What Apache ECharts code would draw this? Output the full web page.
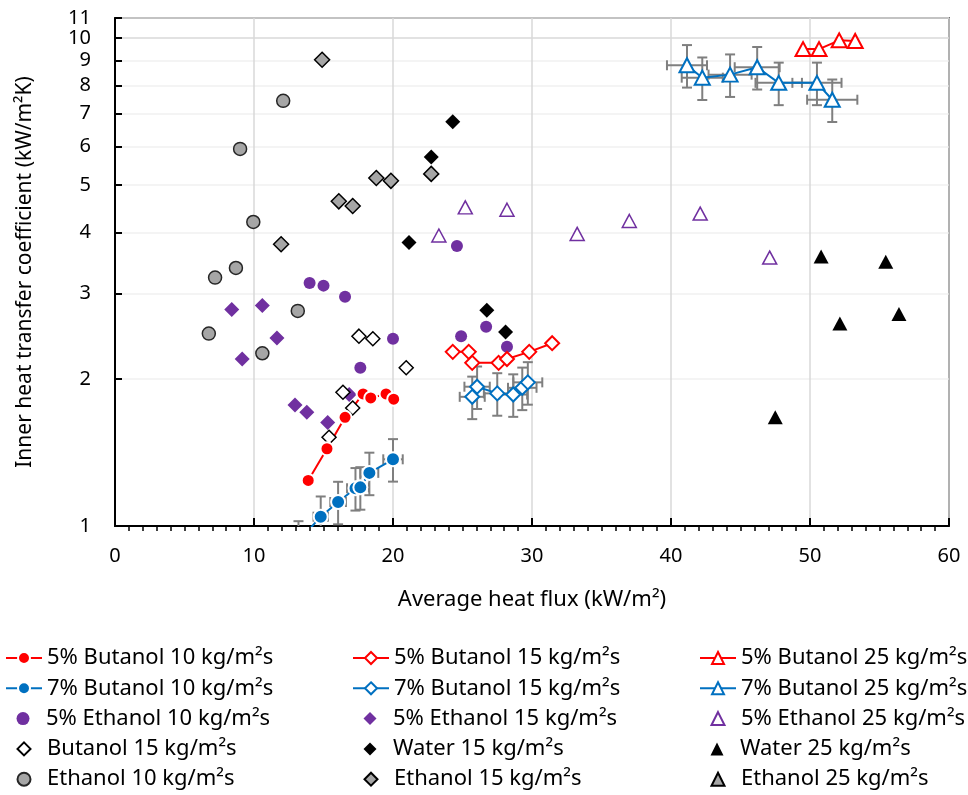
<!DOCTYPE html>
<html>
<head>
<meta charset="utf-8">
<script src="https://cdn.jsdelivr.net/npm/echarts@6/dist/echarts.min.js"></script>
<style>
  html, body { margin: 0; padding: 0; background: #fff; }
  #chart { width: 968px; height: 795px; }
</style>
</head>
<body>
<div id="chart"></div>
<script>
// heat flux (kW/m2) and heat transfer coefficient (kW/m2K) per series
const but5_10_x = [13.9, 15.25, 16.55, 17.85, 18.4, 19.5, 20.05];
const but5_10_y = [1.24, 1.44, 1.67, 1.865, 1.83, 1.865, 1.82];
const but7_10_x = [13.2, 14.8, 16.05, 17.3, 17.65, 18.3, 20.0];
const but7_10_y = [0.93, 1.045, 1.12, 1.195, 1.2, 1.285, 1.37];
const but5_15_x = [24.3, 25.45, 25.7, 27.6, 28.2, 29.8, 31.45];
const but5_15_y = [2.275, 2.275, 2.16, 2.16, 2.2, 2.275, 2.37];
const but7_15_x = [25.7, 26.05, 27.5, 28.65, 29.3, 29.7];
const but7_15_y = [1.84, 1.93, 1.87, 1.86, 1.92, 1.97];
const but5_25_x = [49.5, 50.65, 52.1, 53.25];
const but5_25_y = [9.5, 9.5, 9.9, 9.87];
const but7_25_x = [41.15, 42.25, 44.25, 46.2, 47.75, 50.5, 51.6];
const but7_25_y = [8.8, 8.3, 8.42, 8.72, 8.1, 8.1, 7.48];
const eth5_10_x = [14.0, 15.0, 16.55, 20.0, 17.65, 24.6, 24.9, 26.7, 28.2];
const eth5_10_y = [3.15, 3.11, 2.95, 2.42, 2.11, 3.75, 2.45, 2.56, 2.33];
const eth5_15_x = [8.4, 10.6, 11.65, 9.15, 12.95, 13.8, 15.3, 16.85];
const eth5_15_y = [2.78, 2.83, 2.43, 2.2, 1.77, 1.71, 1.63, 1.86];
const eth5_25_x = [23.3, 25.2, 28.2, 33.25, 37.0, 42.1, 47.1];
const eth5_25_y = [3.94, 4.5, 4.45, 3.97, 4.22, 4.37, 3.55];
const but15_x = [15.4, 16.4, 17.1, 17.55, 18.55, 20.95];
const but15_y = [1.52, 1.88, 1.745, 2.45, 2.42, 2.11];
const water15_x = [21.15, 22.75, 24.3, 26.75, 28.1];
const water15_y = [3.81, 5.71, 6.74, 2.77, 2.5];
const water25_x = [47.5, 50.8, 52.15, 55.45, 56.4];
const water25_y = [1.67, 3.57, 2.6, 3.48, 2.72];
const eth10_x = [6.75, 7.2, 8.7, 9.95, 9.0, 12.1, 10.6, 13.15];
const eth10_y = [2.48, 3.23, 3.38, 4.2, 5.93, 7.44, 2.26, 2.76];
const eth15_x = [11.95, 14.9, 16.1, 17.1, 18.8, 19.85, 22.75];
const eth15_y = [3.78, 9.03, 4.63, 4.53, 5.17, 5.1, 5.27];
const eth25_x = [];
const eth25_y = [];

const yTicks = [1, 2, 3, 4, 5, 6, 7, 8, 9, 10, 11];
// percentage error bars (as in the spreadsheet)
const X_ERR = 0.035;
const Y_ERR = 0.10;

// legend order, row by row (3 columns)
const legendNames = [
  '5% Butanol 10 kg/m²s', '5% Butanol 15 kg/m²s', '5% Butanol 25 kg/m²s',
  '7% Butanol 10 kg/m²s', '7% Butanol 15 kg/m²s', '7% Butanol 25 kg/m²s',
  '5% Ethanol 10 kg/m²s', '5% Ethanol 15 kg/m²s', '5% Ethanol 25 kg/m²s',
  'Butanol 15 kg/m²s', 'Water 15 kg/m²s', 'Water 25 kg/m²s',
  'Ethanol 10 kg/m²s', 'Ethanol 15 kg/m²s', 'Ethanol 25 kg/m²s'
];

const FONT = 'Noto Sans';
const RED = '#ff0000', BLUE = '#0070c0', PURPLE = '#7030a0', GRAY = '#a6a6a6';

function pts(xs, ys) { return xs.map((x, i) => [x, ys[i]]); }
function errPts(xs, ys) { return xs.map((x, i) => [x, ys[i], x * X_ERR, ys[i] * Y_ERR]); }

function renderErr(params, api) {
  const x = api.value(0), y = api.value(1), dx = api.value(2), dy = api.value(3);
  const c = api.coord([x, y]);
  const t = api.coord([x, y + dy]), b = api.coord([x, y - dy]);
  const l = api.coord([x - dx, y]), r = api.coord([x + dx, y]);
  const cap = 5;
  const style = { stroke: '#7f7f7f', lineWidth: 2 };
  const ln = (x1, y1, x2, y2) => ({ type: 'line', shape: { x1, y1, x2, y2 }, style });
  return {
    type: 'group',
    children: [
      ln(c[0], t[1], c[0], b[1]),
      ln(c[0] - cap, t[1], c[0] + cap, t[1]),
      ln(c[0] - cap, b[1], c[0] + cap, b[1]),
      ln(l[0], c[1], r[0], c[1]),
      ln(l[0], c[1] - cap, l[0], c[1] + cap),
      ln(r[0], c[1] - cap, r[0], c[1] + cap)
    ]
  };
}

function errSeries(xs, ys) {
  return { type: 'custom', name: '_err', data: errPts(xs, ys), renderItem: renderErr,
    encode: { x: 0, y: 1 }, clip: true, z: 1, silent: true };
}
function lineSeries(name, xs, ys, color, symbol, size, fill, border) {
  return { type: 'line', name, data: pts(xs, ys), symbol, symbolSize: size, showAllSymbol: true,
    symbolKeepAspect: true,
    lineStyle: { color, width: 2 }, itemStyle: { color: fill, borderColor: border, borderWidth: 2 },
    z: 3, clip: true };
}
function scatterSeries(name, xs, ys, symbol, size, fill, border, bw) {
  return { type: 'scatter', name, data: pts(xs, ys), symbol, symbolSize: size, symbolKeepAspect: true,
    itemStyle: { color: fill, borderColor: border, borderWidth: bw, opacity: 1 }, z: 3, clip: true };
}

const series = [
  errSeries(but7_10_x, but7_10_y),
  errSeries(but7_15_x, but7_15_y),
  errSeries(but7_25_x, but7_25_y),
  scatterSeries('Ethanol 10 kg/m²s', eth10_x, eth10_y, 'circle', 13, GRAY, '#262626', 1.5),
  scatterSeries('Ethanol 15 kg/m²s', eth15_x, eth15_y, 'diamond', 15, GRAY, '#000', 1.5),
  scatterSeries('Ethanol 25 kg/m²s', eth25_x, eth25_y, 'triangle', [14, 13], GRAY, '#000', 1.5),
  scatterSeries('Water 15 kg/m²s', water15_x, water15_y, 'diamond', 15, '#000', '#000', 0),
  scatterSeries('Water 25 kg/m²s', water25_x, water25_y, 'triangle', [15, 14], '#000', '#000', 0),
  scatterSeries('5% Ethanol 10 kg/m²s', eth5_10_x, eth5_10_y, 'circle', 12, PURPLE, PURPLE, 0),
  scatterSeries('5% Ethanol 15 kg/m²s', eth5_15_x, eth5_15_y, 'diamond', 15, PURPLE, PURPLE, 0),
  scatterSeries('5% Ethanol 25 kg/m²s', eth5_25_x, eth5_25_y, 'triangle', [14, 13], '#fff', PURPLE, 1.5),
  scatterSeries('Butanol 15 kg/m²s', but15_x, but15_y, 'diamond', 14, '#fff', '#000', 1.5),
  lineSeries('5% Butanol 10 kg/m²s', but5_10_x, but5_10_y, RED, 'circle', 13, RED, '#fff'),
  lineSeries('7% Butanol 10 kg/m²s', but7_10_x, but7_10_y, BLUE, 'circle', 14, BLUE, '#fff'),
  lineSeries('5% Butanol 15 kg/m²s', but5_15_x, but5_15_y, RED, 'diamond', 14, '#fff', RED),
  lineSeries('7% Butanol 15 kg/m²s', but7_15_x, but7_15_y, BLUE, 'diamond', 14, '#fff', BLUE),
  lineSeries('5% Butanol 25 kg/m²s', but5_25_x, but5_25_y, RED, 'triangle', [15, 14], '#fff', RED),
  lineSeries('7% Butanol 25 kg/m²s', but7_25_x, but7_25_y, BLUE, 'triangle', [15, 14], '#fff', BLUE)
];

// one legend box per entry so the three columns line up;
// scatter entries get a small square icon centred where the line icons sit
const lineNames = series.filter(s => s.type === 'line').map(s => s.name);
const colLeft = [5, 352, 699];
const legends = legendNames.map((name, i) => {
  const isLine = lineNames.includes(name);
  const left = colLeft[i % 3];
  const sym = 13;
  return {
    data: [name],
    left: isLine ? left : left + 18 - sym / 2,
    top: 647 + Math.floor(i / 3) * 30.3,
    orient: 'horizontal', padding: 0,
    itemWidth: isLine ? 36 : sym, itemHeight: isLine ? 15 : sym,
    selectedMode: false,
    textStyle: { fontFamily: FONT, fontSize: 22, color: '#000', lineHeight: 20,
      padding: isLine ? 0 : [0, 0, 0, 36 - (18 + sym / 2)] }
  };
});

const chart = echarts.init(document.getElementById('chart'));
chart.setOption({
  animation: false,
  backgroundColor: '#fff',
  textStyle: { fontFamily: FONT },
  grid: { left: 115, right: 19, top: 18, bottom: 269, show: true, borderColor: '#000', borderWidth: 1.5,
    outerBoundsMode: 'none' },
  graphic: [{
    type: 'text', x: 25, y: 272, rotation: Math.PI / 2,
    style: { text: 'Inner heat transfer coefficient (kW/m²K)', fontFamily: FONT, fontSize: 21,
      fill: '#000', align: 'center', verticalAlign: 'middle' }
  }],
  xAxis: [{
    type: 'value', min: 0, max: 60, interval: 10,
    name: 'Average heat flux (kW/m²)', nameLocation: 'middle', nameGap: 63,
    nameTextStyle: { fontFamily: FONT, fontSize: 22, color: '#000' },
    axisLine: { lineStyle: { color: '#000', width: 2 } },
    axisTick: { show: true, inside: true, length: 8, lineStyle: { color: '#000', width: 2 } },
    axisLabel: { fontFamily: FONT, fontSize: 20, color: '#000', margin: 20 },
    splitLine: { show: true, lineStyle: { color: '#d9d9d9', width: 1.5 } }
  }, {
    type: 'value', min: 0, max: 60, interval: 10, position: 'bottom',
    axisLine: { show: false }, axisLabel: { show: false }, splitLine: { show: false },
    axisTick: { show: false },
    minorTick: { show: true, splitNumber: 10, length: 5, lineStyle: { color: '#000', width: 1.5 } }
  }],
  yAxis: {
    type: 'log', logBase: 10, min: 1, max: 11,
    axisLine: { lineStyle: { color: '#000', width: 2 } },
    axisTick: { show: true, inside: true, length: 7, customValues: yTicks, lineStyle: { color: '#000', width: 2 } },
    axisLabel: { fontFamily: FONT, fontSize: 20, color: '#000', margin: 24, customValues: yTicks,
      hideOverlap: false, formatter: v => String(Math.round(v)) },
    splitLine: { show: true, lineStyle: {
      color: ['#f0f0f0', '#f0f0f0', '#f0f0f0', '#f0f0f0', '#f0f0f0', '#f0f0f0', '#f0f0f0',
        '#f0f0f0', '#f0f0f0', '#d9d9d9', '#f0f0f0'], width: 1.5 } }
  },
  legend: legends,
  series: series
});
</script>
</body>
</html>
